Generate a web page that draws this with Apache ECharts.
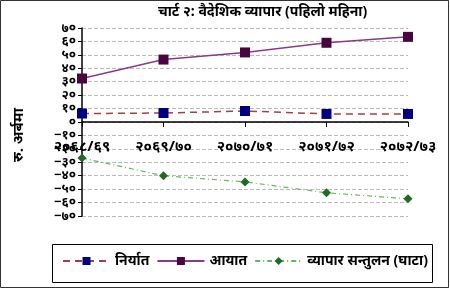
<!DOCTYPE html>
<html><head><meta charset="utf-8">
<script src="https://cdn.jsdelivr.net/npm/echarts@6/dist/echarts.min.js"></script>
<style>html,body{margin:0;padding:0;background:#fff}#c{width:450px;height:289px}</style>
</head><body><div id="c"></div>
<script>
const titleText = 'चार्ट २: वैदेशिक व्यापार (पहिलो महिना)';
const yAxisName = 'रु. अर्बमा';
const categories = ['२०६८/६९', '२०६९/७०', '२०७०/७१', '२०७१/७२', '२०७२/७३'];
const seriesNames = ['निर्यात', 'आयात', 'व्यापार सन्तुलन (घाटा)'];
const exportsData = [6.3, 6.7, 8.2, 6.0, 6.0];
const importsData = [32.4, 46.5, 51.8, 59.0, 63.4];
const balanceData = [-26.8, -40.0, -44.6, -52.7, -57.2];
const devDigits = ['०','१','२','३','४','५','६','७','८','९'];
const toDev = v => String(v).replace(/-/g, '−').replace(/[0-9]/g, d => devDigits[+d]);

const font = '"Noto Sans", "DejaVu Sans", sans-serif';
const chart = echarts.init(document.getElementById('c'));
chart.setOption({
  animation: false,
  backgroundColor: '#fff',
  textStyle: { fontFamily: font },
  title: { text: titleText, left: 158, top: 5, padding: 0,
    textStyle: { fontSize: 14, fontWeight: 'bold', color: '#000', fontFamily: font } },
  graphic: [
    { type: 'rect', shape: { x: 0.5, y: 0.5, width: 448, height: 287 }, style: { fill: 'none', stroke: '#333', lineWidth: 1 } },
    { type: 'rect', shape: { x: 52.5, y: 244.5, width: 380, height: 38 }, style: { fill: 'none', stroke: '#000', lineWidth: 1 } },
    { type: 'text', left: 11, top: 108, rotation: Math.PI / 2,
      style: { text: yAxisName, font: 'bold 15px ' + font, fill: '#000' } }
  ],
  grid: { left: 82, right: 42, top: 28, bottom: 73 },
  legend: {
    left: 62, top: 254, padding: 0,
    itemWidth: 47, itemHeight: 10, itemGap: 7,
    textStyle: { fontSize: 14, fontWeight: 'bold', color: '#000', fontFamily: font },
    data: seriesNames
  },
  xAxis: [{
    type: 'category', data: categories, boundaryGap: false,
    axisLine: { onZero: true, lineStyle: { color: '#000', width: 1.5 } },
    axisTick: { show: true, length: 5, lineStyle: { color: '#000' } },
    axisLabel: { show: false },
    splitLine: { show: false }
  }, {
    type: 'category', data: categories, boundaryGap: false, position: 'bottom', offset: -77,
    axisLine: { show: false, onZero: false },
    axisTick: { show: false },
    axisLabel: { margin: 0, fontSize: 15, fontWeight: 'bold', color: '#000', fontFamily: font },
    splitLine: { show: false }
  }],
  yAxis: {
    type: 'value', min: -70, max: 70, interval: 10,
    axisLine: { show: true, lineStyle: { color: '#000', width: 1.5 } },
    axisTick: { show: true, length: 4, lineStyle: { color: '#000' } },
    axisLabel: { margin: 6, fontSize: 13, lineHeight: 12, fontWeight: 'bold', color: '#000', fontFamily: font,
      interval: 0, showMinLabel: true, showMaxLabel: true, hideOverlap: false, formatter: v => toDev(v) },
    splitLine: { show: true, lineStyle: { color: '#bbb', type: 'dashed', width: 1 } }
  },
  series: [
    { name: seriesNames[0], type: 'line', data: exportsData,
      symbol: 'rect', symbolSize: 10,
      itemStyle: { color: '#000080' },
      lineStyle: { color: '#A0404A', width: 1.5, type: [7, 5] } },
    { name: seriesNames[1], type: 'line', data: importsData,
      symbol: 'rect', symbolSize: 10,
      itemStyle: { color: '#4A0440' },
      lineStyle: { color: '#8A3A8A', width: 1.5 } },
    { name: seriesNames[2], type: 'line', data: balanceData,
      symbol: 'diamond', symbolSize: 9,
      itemStyle: { color: '#1F6B1F' },
      lineStyle: { color: '#66B866', width: 1.2, type: [5, 3, 1, 3] } }
  ]
});
</script></body></html>
